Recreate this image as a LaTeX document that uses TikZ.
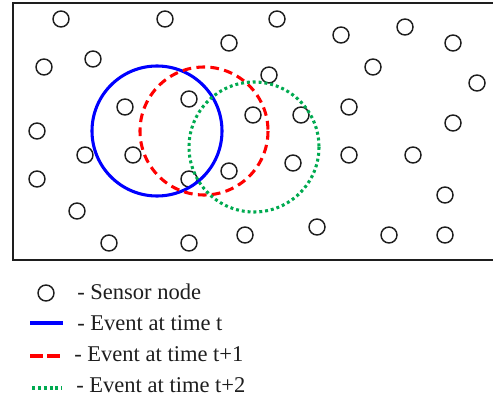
\documentclass[tikz,border=0pt]{standalone}
\usepackage{fontspec}
\setmainfont{Liberation Serif}
\definecolor{evblue}{RGB}{0,0,255}
\definecolor{evred}{RGB}{255,0,0}
\definecolor{evgreen}{RGB}{0,170,80}
\definecolor{ink}{RGB}{30,30,30}
\begin{document}
\begin{tikzpicture}[x=0.75pt,y=-0.75pt,
  sensor/.style={circle,draw=ink,line width=1.1pt,minimum size=12pt,inner sep=0pt},
  evt/.style={line width=2.3pt,evblue},
  evtone/.style={line width=2.3pt,evred,dash pattern=on 6.5pt off 4pt},
  evttwo/.style={line width=2.3pt,evgreen,dash pattern=on 2.2pt off 2.2pt},
  legtext/.style={anchor=base west,inner sep=0pt,text=ink,font=\fontsize{16.9pt}{19pt}\selectfont}]
\useasboundingbox (0,0) rectangle (493,403);
\clip (0,0) rectangle (493,403);
% frame
\draw[line width=1.5pt,ink] (496,3) -- (13,3) -- (13,260) -- (496,260);
% sensors
\foreach \x/\y [count=\i] in {61/19,165/19,277/19,229/43,341/35,405/27,453/43,44/67,93/59,373/67,269/75,477/83,125/107,189/99,253/115,301/115,349/107,453/123,37/131,85/155,133/155,349/155,413/155,293/163,229/171,189/179,37/179,445/195,77/211,109/243,189/243,245/235,317/227,389/235,445/235}
  \node[sensor] (s\i) at (\x,\y) {};
% events
\draw[evt] (157,131) circle[radius=65];
\draw[evtone] (204,131) circle[radius=64];
\draw[evttwo] (254,147) circle[radius=65];
% legend
\node[sensor] (ls) at (46,293) {};
\node[legtext] (lt1) at (77,299) {- Sensor node};
\draw[evt] (30,323) -- (63,323);
\node[legtext] (lt2) at (77,330) {- Event at time t};
\draw[evtone,dash pattern=on 9.75pt off 3pt] (30,356) -- (61,356);
\node[legtext] (lt3) at (74,361) {- Event at time t+1};
\draw[evttwo] (32,388) -- (62,388);
\node[legtext] (lt4) at (76,392) {- Event at time t+2};
\end{tikzpicture}
\end{document}
